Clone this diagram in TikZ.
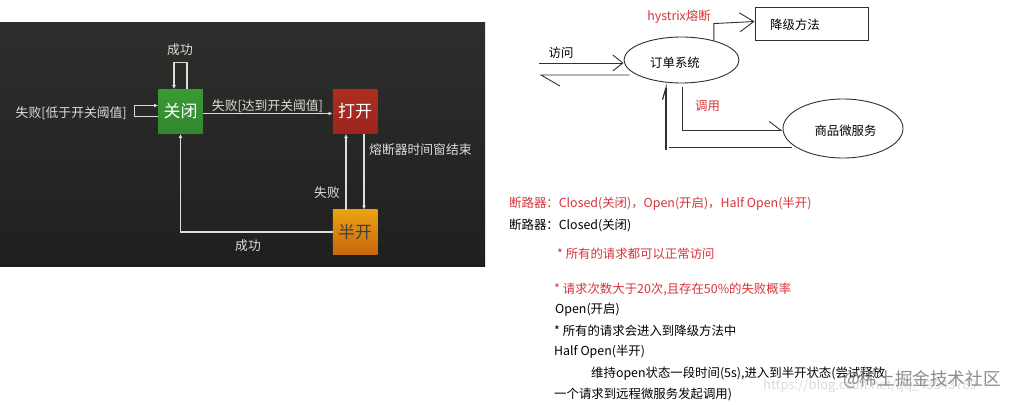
\documentclass[tikz,border=0pt]{standalone}
\usepackage{fontspec}
\setmainfont{Noto Sans CJK SC}
\usetikzlibrary{arrows.meta,shapes.geometric}
\definecolor{linered}{HTML}{D8343C}
\definecolor{flowline}{HTML}{DCDCD8}
\definecolor{sketch}{HTML}{303030}
\definecolor{paneltop}{HTML}{2D2F2C}
\definecolor{panelmid}{HTML}{343632}
\definecolor{panelbot}{HTML}{1F1F1F}
\definecolor{closedtop}{HTML}{3B9A35}
\definecolor{closedbot}{HTML}{33872E}
\definecolor{opentop}{HTML}{AE2C20}
\definecolor{openbot}{HTML}{9A261C}
\definecolor{halftop}{HTML}{EBA212}
\definecolor{halfbot}{HTML}{C8660F}

\begin{document}
\begin{tikzpicture}[x=1pt,y=-1pt]
\tikzstyle{every node}=[inner sep=0pt,font=\fontsize{12.4}{14}\selectfont];
\tikzstyle{state}=[minimum size=44.5pt,font=\fontsize{17}{19}\selectfont];
\tikzstyle{flow}=[draw=flowline,line width=1.1pt,-{Latex[length=4pt,width=4pt]}];
\tikzstyle{darklabel}=[text=flowline,font=\fontsize{12.8}{14}\selectfont];
\tikzstyle{pen}=[draw=sketch,line width=0.9pt];
\tikzstyle{textline}=[anchor=west];
\useasboundingbox (0,0) rectangle (1016,404);
\fill[white] (0,0) rectangle (1016,404);
\shade[top color=paneltop,middle color=panelmid,bottom color=panelbot] (0,23) rectangle (485,266);
% left: state machine
\node[state,text=white,top color=closedtop,bottom color=closedbot] (closed) at (180.5,111.5) {关闭};
\node[state,text=white,top color=opentop,bottom color=openbot] (open) at (355,111.5) {打开};
\node[state,text=black!75,top color=halftop,bottom color=halfbot] (half) at (355,232) {半开};
\draw[flow] ([xshift=6.5pt]closed.north) -- ++(0,-27) -| ([xshift=-6.5pt]closed.north);
\draw[flow] ([yshift=-5pt]closed.west) -- ++(-24,0) |- ([yshift=6pt]closed.west);
\draw[flow] ([yshift=-2pt]closed.east) -- ([yshift=-2pt]open.west);
\draw[flow] ([xshift=9pt]open.south) -- ([xshift=9pt]half.north);
\draw[flow] ([xshift=-9pt]half.north) -- ([xshift=-9pt]open.south);
\draw[flow] (half.west) -| (closed.south);
\node[darklabel] (loopgood) at (180,50) {成功};
\node[darklabel,anchor=east] (loopbad) at (127,113) {失败[低于开关阈值]};
\node[darklabel] (trip) at (267.5,106) {失败[达到开关阈值]};
\node[darklabel,anchor=west] (timeout) at (369,150) {熔断器时间窗结束};
\node[darklabel] (halfbad) at (327,193) {失败};
\node[darklabel] (halfgood) at (248,246) {成功};
% right: sketch
\node[draw=sketch,line width=0.9pt,minimum width=113pt,minimum height=33pt] (fallback) at (811.5,23.5) {};
\node[draw=sketch,line width=0.9pt,ellipse,minimum width=115pt,minimum height=46pt] (orders) at (681.5,60) {};
\node[draw=sketch,line width=0.9pt,ellipse,minimum width=120pt,minimum height=59pt] (goods) at (843,128.5) {};
\node (fallbacktext) at (795,25) {降级方法};
\node (orderstext) at (675,63) {订单系统};
\node (goodstext) at (845.5,131) {商品微服务};
\coordinate (visitin) at (538.5,63);
\coordinate (visitout) at (541,75);
\coordinate (callout) at (682,87);
\coordinate (backin) at (666,150);
\coordinate (backout) at (669,147);
\draw[pen,-{Straight Barb[length=10pt,width=16pt]}] (visitin) -- (orders.west |- visitin);
\draw[pen] ([xshift=6pt]orders.west |- visitout) -- (visitout) -- ++(19,11);
\draw[pen,-{Straight Barb[length=14pt,width=19pt]}] (orders.31) -- ++(0,-17) -- ([yshift=2pt]fallback.west);
\draw[pen,-{Straight Barb[harpoon,length=12pt,width=18pt]}] (callout) |- ([yshift=-2pt]goods.west);
\draw[pen] ([xshift=9pt]goods.west |- backout) -- (backout);
\draw[pen,line width=1.2pt,-{Straight Barb[harpoon,length=12pt,width=7pt]}] (backin) -- (orders.south -| backin);
\node[text=linered] (hystrixlabel) at (679,17) {hystrix熔断};
\node (visitlabel) at (561,53) {访问};
\node[text=linered] (calllabel) at (707.5,106) {调用};
% right: notes
\node[textline,text=linered] (note1) at (509,204) {断路器：Closed(关闭)，Open(开启)，Half Open(半开)};
\node[textline] (note2) at (509,225) {断路器：Closed(关闭)};
\node[textline,text=linered] (note3) at (557,254) {* 所有的请求都可以正常访问};
\node[textline,text=linered] (note4) at (554,289) {* 请求次数大于20次,且存在50\%的失败概率};
\node[textline] (note5) at (555,310) {Open(开启)};
\node[textline] (note6) at (554,331) {* 所有的请求会进入到降级方法中};
\node[textline] (note7) at (554,352) {Half Open(半开)};
\node[textline] (note8) at (591,374) {维持open状态一段时间(5s),进入到半开状态(尝试释放};
\node[textline] (note9) at (554,394) {一个请求到远程微服务发起调用)};
\node[textline,text=black!14,font=\fontsize{13}{14}\selectfont] (url) at (763,386) {https://blog.csdn.net/qq\_43543789};
\node[textline,text=black!45,font=\fontsize{17.6}{19}\selectfont] (mark) at (843,380) {@稀土掘金技术社区};
\end{tikzpicture}
\end{document}
